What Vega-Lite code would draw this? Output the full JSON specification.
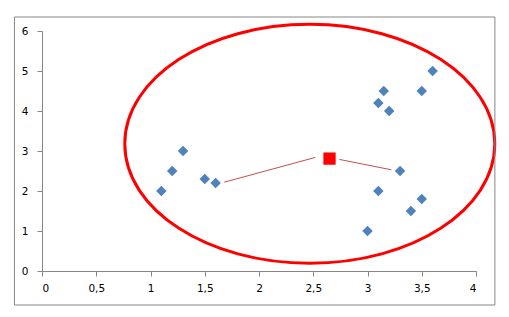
{
  "$schema": "https://vega.github.io/schema/vega-lite/v6.json",
  "width": 434,
  "height": 240,
  "autosize": {"type": "none"},
  "padding": {"left": 42, "top": 31, "right": 33, "bottom": 46},
  "background": "white",
  "config": {
    "view": {"stroke": null},
    "axis": {
      "grid": false,
      "domainColor": "#868686",
      "tickColor": "#868686",
      "tickSize": 5,
      "labelFont": "DejaVu Sans",
      "labelFontSize": 10.5,
      "labelColor": "#000000",
      "labelOverlap": false,
      "title": null
    }
  },
  "datasets": {
    "pts": [
      {"x": 1.1, "y": 2.0},
      {"x": 1.2, "y": 2.5},
      {"x": 1.3, "y": 3.0},
      {"x": 1.5, "y": 2.3},
      {"x": 1.6, "y": 2.2},
      {"x": 3.0, "y": 1.0},
      {"x": 3.1, "y": 2.0},
      {"x": 3.1, "y": 4.2},
      {"x": 3.15, "y": 4.5},
      {"x": 3.2, "y": 4.0},
      {"x": 3.3, "y": 2.5},
      {"x": 3.4, "y": 1.5},
      {"x": 3.5, "y": 1.8},
      {"x": 3.5, "y": 4.5},
      {"x": 3.6, "y": 5.0}
    ],
    "links": [
      {"x": 1.68, "y": 2.22, "x2": 2.52, "y2": 2.84},
      {"x": 2.74, "y": 2.79, "x2": 3.22, "y2": 2.53}
    ],
    "centroid": [{"x": 2.65, "y": 2.81}],
    "ellipse": [{"x": 2.468, "y": 3.18}]
  },
  "encoding": {
    "x": {
      "field": "x", "type": "quantitative",
      "scale": {"domain": [0, 4], "nice": false, "zero": false},
      "axis": {"values": [0, 0.5, 1, 1.5, 2, 2.5, 3, 3.5, 4], "labelExpr": "replace(toString(datum.value), '.', ',')", "labelPadding": 7, "labelOverlap": false}
    },
    "y": {
      "field": "y", "type": "quantitative",
      "scale": {"domain": [0, 6], "nice": false},
      "axis": {"values": [0, 1, 2, 3, 4, 5, 6], "labelExpr": "toString(datum.value)", "labelPadding": 9, "labelOverlap": false}
    }
  },
  "layer": [
    {
      "data": {"name": "pts"},
      "mark": {"type": "point", "shape": "diamond", "filled": true, "size": 110, "color": "#4F81BD", "opacity": 1}
    },
    {
      "data": {"name": "links"},
      "mark": {"type": "rule", "color": "#C0504D", "strokeWidth": 1},
      "encoding": {
        "x2": {"field": "x2"},
        "y2": {"field": "y2"}
      }
    },
    {
      "data": {"name": "centroid"},
      "mark": {"type": "point", "shape": "square", "filled": true, "size": 150, "color": "#FF0000", "opacity": 1}
    },
    {
      "data": {"name": "ellipse"},
      "mark": {
        "type": "point",
        "shape": "M1,0 C1,0.3568 0.5523,0.646 0,0.646 C-0.5523,0.646 -1,0.3568 -1,0 C-1,-0.3568 -0.5523,-0.646 0,-0.646 C0.5523,-0.646 1,-0.3568 1,0 Z",
        "filled": false,
        "size": 136900,
        "stroke": "#FF0000",
        "strokeWidth": 3,
        "opacity": 1
      }
    },
    {
      "data": {"values": [{"x": -0.254, "y": 6.35, "x2": 4.174, "y2": -0.85}]},
      "mark": {"type": "rect", "filled": false, "fill": "transparent", "stroke": "#868686", "strokeWidth": 1},
      "encoding": {
        "x2": {"field": "x2"},
        "y2": {"field": "y2"}
      }
    }
  ]
}
